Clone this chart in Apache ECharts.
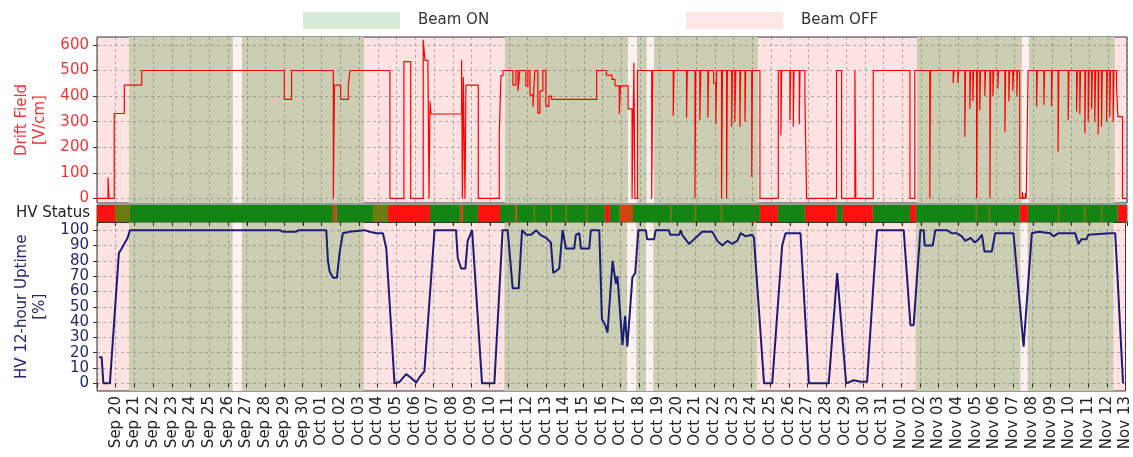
<!DOCTYPE html>
<html><head><meta charset="utf-8">
<script src="https://cdn.jsdelivr.net/npm/echarts@6/dist/echarts.min.js"></script>
<style>html,body{margin:0;padding:0;background:#fff}#c{width:1133px;height:457px}</style>
</head><body><div id="c"></div>
<script>
// x unit: days since Sep 19 00:00
const dayLabels = ['Sep 20','Sep 21','Sep 22','Sep 23','Sep 24','Sep 25','Sep 26','Sep 27','Sep 28','Sep 29','Sep 30',
 'Oct 01','Oct 02','Oct 03','Oct 04','Oct 05','Oct 06','Oct 07','Oct 08','Oct 09','Oct 10','Oct 11','Oct 12','Oct 13','Oct 14','Oct 15','Oct 16','Oct 17','Oct 18','Oct 19','Oct 20','Oct 21','Oct 22','Oct 23','Oct 24','Oct 25','Oct 26','Oct 27','Oct 28','Oct 29','Oct 30','Oct 31',
 'Nov 01','Nov 02','Nov 03','Nov 04','Nov 05','Nov 06','Nov 07','Nov 08','Nov 09','Nov 10','Nov 11','Nov 12','Nov 13'];
const driftTicks = [0,100,200,300,400,500,600];
const uptimeTicks = [0,10,20,30,40,50,60,70,80,90,100];

const beamOnSpans = [[1.71,7.26],[7.74,14.26],[21.78,28.35],[28.83,29.36],[29.74,35.29],[43.78,49.39],[49.76,54.35]];
const gapSpans = [[7.26,7.74],[28.35,28.83],[29.36,29.74],[49.39,49.76]];

// drift field [day, V/cm] (value holds until next point)
const driftField = [[0,0],[0.59,82],[0.64,0],[0.92,332],[1.46,443],[2.39,500],[10.0,387],[10.39,500],[12.62,0],[12.68,443],[13.01,387],[13.42,443],[13.51,500],
[15.64,0],[16.39,535],[16.75,0],[17.42,620],[17.51,540],[17.67,530],[17.73,0],[17.78,380],[17.83,330],[19.47,540],[19.51,0],[19.56,475],[19.65,0],[19.7,443],[20.36,0],
[21.48,250],[21.57,480],[21.68,500],[22.21,443],[22.37,500],[22.48,420],[22.58,500],[22.9,440],[23.01,500],[23.12,404],[23.28,358],[23.38,500],[23.54,333],[23.65,420],[23.81,500],[23.97,360],[24.13,400],[24.27,387],
[26.68,500],[27.2,482],[27.5,465],[27.66,440],[27.89,330],[27.95,440],[28.36,350],[28.57,0],[28.67,530],[28.72,0],[28.86,500],[29.62,0],[29.68,500],
[30.77,322],[30.81,500],[31.48,315],[31.52,500],[31.93,0],[31.97,500],[32.19,306],[32.24,500],[32.62,315],[32.66,500],[32.93,450],[33.04,290],[33.09,500],[33.35,0],[33.4,500],[33.62,0],[33.66,500],[33.89,280],[33.93,500],[34.06,300],[34.11,500],[34.33,280],[34.37,500],[34.6,300],[34.64,500],[34.96,84],[35.0,500],
[35.4,0],[36.38,500],[36.52,247],[36.56,500],[37.0,306],[37.04,500],[37.18,280],[37.22,500],[37.5,290],[37.54,500],[37.8,400],[37.89,0],[39.49,500],[39.76,0],[40.47,500],[40.52,0],[41.45,500],[43.41,0],[43.67,500],
[44.47,0],[44.51,500],[45.72,451],[45.76,500],[45.97,451],[46.01,500],[46.34,240],[46.38,500],[46.61,350],[46.65,500],[46.77,380],[46.81,500],[46.97,0],[47.01,500],[47.14,345],[47.18,500],[47.41,400],[47.45,500],[47.68,0],[47.72,500],[47.84,400],[47.88,500],[48.1,430],[48.14,500],[48.48,260],[48.52,500],[48.69,380],[48.73,500],[48.9,420],[48.95,500],[49.12,400],[49.15,500],
[49.27,0],[49.41,25],[49.46,0],[49.57,20],[49.62,0],[49.72,500],[50.17,358],[50.21,500],[50.56,365],[50.6,500],[50.97,360],[51.01,500],[51.32,182],[51.36,500],[51.86,306],[51.9,500],[52.31,340],[52.35,500],[52.48,330],[52.52,500],[52.75,255],[52.79,500],[52.93,300],[52.97,500],[53.11,350],[53.15,500],[53.28,300],[53.33,500],[53.46,250],[53.5,500],[53.64,280],[53.68,500],[53.91,300],[53.95,500],[54.08,320],[54.12,500],[54.26,300],[54.3,500],[54.44,440],[54.51,320],[54.76,0],[55,0]];

// HV 12-hour uptime [day, %]
const uptime = [[0.11,17],[0.25,17],[0.34,0],[0.69,0],[1.17,85],[1.32,88],[1.64,95],[1.76,100],[9.77,100],[9.93,99],[10.66,99],[10.78,100],[12.26,100],[12.35,80],[12.44,73],[12.62,69],[12.83,69],[12.97,85],[13.15,98],[13.51,99],[14.31,100],[14.58,99],[14.93,98],[15.29,98],[15.47,88],[15.91,0],
[16.18,1],[16.53,6],[16.76,4],[17.07,0.5],[17.25,4],[17.51,8],[18.05,100],[19.2,100],[19.29,82],[19.47,75],[19.7,75],[19.82,93],[20.06,100],[20.59,0],[21.25,0],[21.69,100],[21.96,100],[22.23,62],[22.55,62],[22.73,100],
[22.96,97],[23.22,97],[23.48,100],[23.71,97],[24.01,95],[24.27,92],[24.4,72],[24.72,75],[24.9,100],[25.08,88],[25.52,88],[25.61,97],[25.79,98],[25.88,88],[26.32,88],[26.41,100],[26.86,100],
[27.0,42],[27.18,38],[27.3,33],[27.57,80],[27.75,65],[27.83,70],[28.1,25],[28.24,44],[28.36,24],[28.63,69],[28.78,72],[28.95,100],[29.35,100],[29.42,94],[29.79,94],[29.88,100],[30.59,100],[30.65,97],[31.13,97],[31.22,100],[31.29,97],[31.66,91],[31.93,94],[32.19,97],[32.35,99],[32.89,99],[33.0,97],[33.17,93],[33.44,90],[33.71,93],[33.97,91],[34.24,93],[34.42,98],[34.69,96],[35.04,97],[35.13,95],
[35.67,0],[36.11,0],[36.64,90],[36.82,98],[37.62,98],[38.07,0],[39.13,0],[39.58,72],[39.67,72],[40.06,0],[40.47,2],[40.85,1],[41.18,1],[41.71,100],[43.14,100],[43.5,38],[43.67,38],[44.03,100],[44.21,100],[44.26,90],[44.69,90],[44.83,100],
[45.45,100],[45.7,98],[45.97,98],[46.25,96],[46.43,93],[46.72,95],[46.93,92],[47.14,94],[47.32,97],[47.41,98],[47.46,86],[47.85,86],[48.03,98],[49.01,98],[49.55,24],[49.99,98],[50.35,99],[50.98,98],[51.15,96],[51.42,98],[52.31,98],[52.48,91],[52.64,94],[52.91,94],[53.01,97],[54.17,98],[54.26,97],[54.45,98],[54.87,0]];

// HV status strip [startDay, endDay, state] r=off, g=on, o/b=partial
const hvStatus = [[0,0.96,'r'],[0.96,1.76,'o'],[1.76,12.6,'g'],[12.6,12.81,'b'],[12.81,14.74,'g'],[14.74,15.54,'o'],[15.54,17.78,'r'],[17.78,19.38,'g'],[19.38,19.54,'b'],[19.54,20.34,'g'],[20.34,21.52,'r'],[21.52,22.32,'g'],[22.32,22.42,'b'],[22.42,27.12,'g'],[27.12,27.39,'r'],[27.39,27.92,'g'],[27.92,28.62,'b'],[28.62,35.4,'g'],[35.4,36.36,'r'],[36.36,37.8,'g'],[37.8,39.51,'r'],[39.51,39.83,'g'],[39.83,41.43,'r'],[41.43,43.41,'g'],[43.41,43.73,'r'],[43.73,49.28,'g'],[49.28,49.71,'r'],[49.71,54.51,'g'],[54.51,55,'r'],
[23.3,23.4,'o'],[24.2,24.3,'o'],[25.0,25.1,'o'],[26.1,26.2,'o'],[30.6,30.7,'o'],[31.9,32.0,'o'],[33.3,33.4,'o'],[46.9,47.0,'o'],[47.6,47.7,'o'],[51.3,51.4,'o'],[52.7,52.8,'o'],[53.6,53.7,'o']];

const statusColors = {r:'#ff1010', g:'#138413', o:'#6c7a12', b:'#d2440e'};
const FONT = 'DejaVu Sans';
const PINK = '#ffe2e2', OLIVE = '#ccceb4', GAP = '#fff1f1';
const gridLine = {show:true, lineStyle:{color:'rgba(90,90,90,0.55)', type:[3,3], width:0.8}};

function spansArea(){
  return beamOnSpans.map(s=>[{xAxis:s[0], itemStyle:{color:OLIVE}},{xAxis:s[1]}])
    .concat(gapSpans.map(s=>[{xAxis:s[0], itemStyle:{color:GAP}},{xAxis:s[1]}]));
}
function xAx(gi, extra){
  return Object.assign({type:'value', gridIndex:gi, min:0, max:55, interval:1, z:2,
    axisLine:{show:false}, axisTick:{show:false}, axisLabel:{show:false}, splitLine:gridLine}, extra||{});
}

const chart = echarts.init(document.getElementById('c'), null, {renderer:'canvas'});
chart.setOption({
  animation:false,
  textStyle:{fontFamily:FONT},
  legend:[
    {data:['Beam ON'], left:303, top:12, padding:0, itemWidth:97, itemHeight:17, icon:'rect', selectedMode:false,
     textStyle:{fontSize:15, color:'#333', fontFamily:FONT, padding:[0,0,0,13]}},
    {data:['Beam OFF'], left:686, top:12, padding:0, itemWidth:97, itemHeight:17, icon:'rect', selectedMode:false,
     textStyle:{fontSize:15, color:'#333', fontFamily:FONT, padding:[0,0,0,13]}}
  ],
  grid:[
    {left:97, width:1030, top:37, height:166, show:true, backgroundColor:PINK, borderColor:'#333', borderWidth:1},
    {left:97, width:1030, top:205, height:17, show:true, backgroundColor:'transparent', borderColor:'#2a4a2a', borderWidth:1},
    {left:97, width:1030, top:222.5, height:168.5, show:true, backgroundColor:PINK, borderColor:'#333', borderWidth:1}
  ],
  xAxis:[
    xAx(0),
    xAx(1, {splitLine:{show:true, lineStyle:{color:'rgba(255,255,255,0.25)', type:[3,3], width:0.8}},
      axisTick:{show:true, length:4, inside:false, lineStyle:{color:'#222'}}}),
    xAx(2, {axisTick:{show:true, length:4, lineStyle:{color:'#222'}},
      axisLabel:{show:true, rotate:90, fontSize:15, color:'#222', margin:5, fontFamily:FONT,
        formatter:function(v){ const i=Math.round(v); return (i>=1 && i<=dayLabels.length) ? dayLabels[i-1] : ''; }}})
  ],
  yAxis:[
    {type:'value', gridIndex:0, min:-18, max:631, z:2,
     name:'Drift Field\n[V/cm]', nameLocation:'middle', nameRotate:90, nameGap:46,
     nameTextStyle:{fontSize:15, color:'#ee3535', lineHeight:18, fontFamily:FONT},
     axisLine:{show:false},
     axisTick:{show:true, length:4, customValues:driftTicks, lineStyle:{color:'#333'}},
     axisLabel:{fontSize:15, color:'#ee3535', margin:8, customValues:driftTicks, fontFamily:FONT},
     splitLine:gridLine},
    {type:'category', gridIndex:1, data:['HV Status'], z:2,
     axisLine:{show:false}, axisTick:{show:false},
     axisLabel:{fontSize:15, color:'#222', margin:7, fontFamily:FONT}, splitLine:{show:false}},
    {type:'value', gridIndex:2, min:-5, max:105, z:2,
     name:'HV 12-hour Uptime\n[%]', nameLocation:'middle', nameRotate:90, nameGap:46,
     nameTextStyle:{fontSize:15, color:'#262670', lineHeight:18, fontFamily:FONT},
     axisLine:{show:false},
     axisTick:{show:true, length:4, customValues:uptimeTicks, lineStyle:{color:'#333'}},
     axisLabel:{fontSize:15, color:'#262670', margin:8, customValues:uptimeTicks, fontFamily:FONT},
     splitLine:gridLine}
  ],
  series:[
    {name:'Beam ON', type:'scatter', data:[], xAxisIndex:0, yAxisIndex:0, itemStyle:{color:'#cce6cc'}},
    {name:'Beam OFF', type:'scatter', data:[], xAxisIndex:0, yAxisIndex:0, itemStyle:{color:'#ffe0e0'}},
    {name:'shadeTop', type:'line', data:[], xAxisIndex:0, yAxisIndex:0, z:1, silent:true,
     markArea:{silent:true, data:spansArea()}},
    {name:'shadeBottom', type:'line', data:[], xAxisIndex:2, yAxisIndex:2, z:1, silent:true,
     markArea:{silent:true, data:spansArea()}},
    {name:'Drift Field', type:'line', step:'end', data:driftField, xAxisIndex:0, yAxisIndex:0, z:3,
     showSymbol:false, lineStyle:{color:'#ff0000', width:1.2}, itemStyle:{color:'#ff0000'}, clip:true},
    {name:'HV Status', type:'custom', xAxisIndex:1, yAxisIndex:1, z:3, clip:true,
     data:hvStatus.map(s=>[s[0], s[1], 0]),
     encode:{x:[0,1], y:2},
     renderItem:function(params, api){
       const a = api.coord([api.value(0), 0]);
       const b = api.coord([api.value(1), 0]);
       const h = api.size([0,1])[1];
       return {type:'rect', shape:{x:a[0], y:a[1]-h/2, width:b[0]-a[0], height:h},
         style:{fill:statusColors[hvStatus[params.dataIndex][2]]}};
     }},
    {name:'Uptime', type:'line', data:uptime, xAxisIndex:2, yAxisIndex:2, z:3,
     showSymbol:false, lineStyle:{color:'#1c1c78', width:2}, itemStyle:{color:'#1c1c78'}, clip:true}
  ]
});
</script></body></html>
